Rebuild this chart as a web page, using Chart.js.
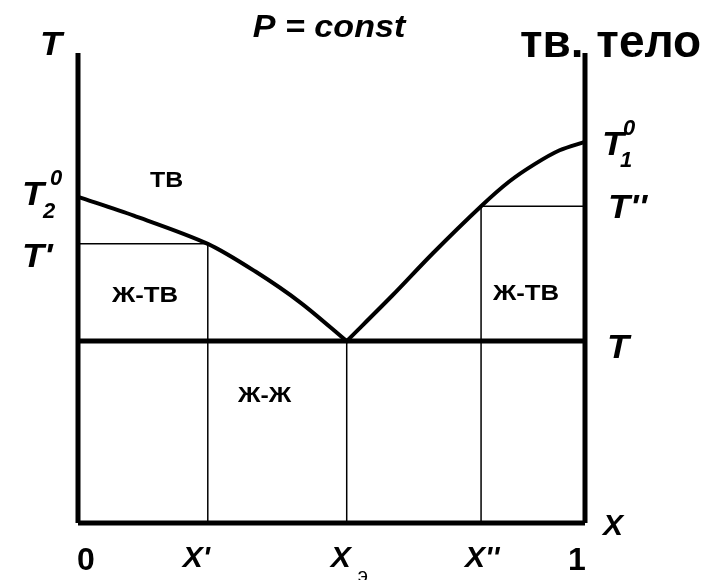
<!DOCTYPE html>
<html>
<head>
<meta charset="utf-8">
<script src="https://cdn.jsdelivr.net/npm/chart.js@4/dist/chart.umd.min.js"></script>
<style>
  body { margin: 0; background: #fff; }
  canvas { display: block; }
</style>
</head>
<body>
<canvas id="phaseChart" width="714" height="580"></canvas>
<script>
// Composition marks on the x axis: 0, x', x_э, x'', 1
const compositions = [0, 0.256, 0.53, 0.795, 1];
// Temperature levels: T2^0, T', T (eutectic), T'', T1^0
const tempLevels = [69.4, 59.4, 38.7, 67.4, 81.1];

// Liquidus curves (left and right branch)
const leftLiquidusX = [0, 0.11, 0.256, 0.35, 0.44, 0.53];
const leftLiquidusT = [69.4, 65.4, 59.4, 53.5, 46.8, 38.7];
const rightLiquidusX = [0.53, 0.62, 0.70, 0.795, 0.85, 0.90, 0.95, 1];
const rightLiquidusT = [38.7, 48.4, 57.4, 67.4, 72.6, 76.3, 79.3, 81.1];

const axisTop = 100;

const [x0, xP, xE, xPP, x1] = compositions;
const [T2, Tp, Te, Tpp, T1] = tempLevels;

function seg(xa, ya, xb, yb, width) {
    return {
        data: [{ x: xa, y: ya }, { x: xb, y: yb }],
        borderColor: '#000',
        borderWidth: width,
        pointRadius: 0,
        tension: 0,
        clip: false
    };
}

function curve(xs, ts) {
    return {
        data: xs.map((x, i) => ({ x: x, y: ts[i] })),
        borderColor: '#000',
        borderWidth: 4,
        pointRadius: 0,
        tension: 0.3,
        borderCapStyle: 'round',
        clip: false
    };
}

const datasets = [
    seg(x0, 0, x0, axisTop, 5),     // left axis
    seg(x1, 0, x1, axisTop, 5),     // right axis
    seg(x0, 0, x1, 0, 5),           // bottom
    seg(x0, Te, x1, Te, 5),         // eutectic line
    seg(x0, Tp, xP, Tp, 1.5),
    seg(xP, 0, xP, Tp, 1.5),
    seg(xE, 0, xE, Te, 1.5),
    seg(xPP, 0, xPP, Tpp, 1.5),
    seg(xPP, Tpp, x1, Tpp, 1.5),
    curve(leftLiquidusX, leftLiquidusT),
    curve(rightLiquidusX, rightLiquidusT)
];

const FONT = '"Liberation Sans", Arial, sans-serif';

const labelsPlugin = {
    id: 'phaseLabels',
    afterDraw(chart) {
        const ctx = chart.ctx;
        const xs = chart.scales.x, ys = chart.scales.y;
        const px = v => xs.getPixelForValue(v);
        const py = v => ys.getPixelForValue(v);

        // draw text, optionally stretched horizontally
        function t(s, x, y, font, stretch, align) {
            ctx.save();
            ctx.font = font;
            ctx.textAlign = align || 'left';
            ctx.textBaseline = 'alphabetic';
            ctx.fillStyle = '#000';
            ctx.translate(x, y);
            ctx.scale(stretch || 1, 1);
            ctx.fillText(s, 0, 0);
            ctx.restore();
        }
        const bi = n => 'italic bold ' + n + 'px ' + FONT;
        const b = n => 'bold ' + n + 'px ' + FONT;

        // titles
        t('T', 40, 55, bi(34), 1.06);
        t('P = const', 329, 37, bi(31), 1.1, 'center');
        t('тв. тело', 520, 57, b(46));

        // left temperature labels
        t('T', 22, py(T2) + 8, bi(34), 1.06);
        t('0', 50, py(T2) - 12, bi(22));
        t('2', 43, py(T2) + 21, bi(22));
        t("T'", 22, py(Tp) + 23, bi(34), 1.06);

        // right temperature labels
        t('T', 602, py(T1) + 13, bi(34), 1.06);
        t('0', 623, py(T1) - 7, bi(22));
        t('1', 620, py(T1) + 25, bi(22));
        t("T''", 608, py(Tpp) + 12, bi(34), 1.06);
        t('T', 607, py(Te) + 17, bi(34), 1.06);
        t('X', 603, py(0) + 12, bi(30));

        // region labels
        t('ТВ', 150, 187, b(22), 1.13);
        t('Ж-ТВ', 112, 302, b(22), 1.17);
        t('Ж-ТВ', 493, 300, b(22), 1.17);
        t('Ж-Ж', 238, 402, b(22), 1.13);

        // composition labels
        t('0', px(x0) + 8, 570, b(32), 1, 'center');
        t('1', px(x1) - 8, 570, b(32), 1, 'center');
        t("X'", px(xP) - 25, 567, bi(30));
        t('X', px(xE) - 16, 567, bi(30));
        t('э', px(xE) + 11, 582, '20px ' + FONT);
        t("X''", px(xPP) - 16, 567, bi(30));
    }
};

new Chart(document.getElementById('phaseChart').getContext('2d'), {
    type: 'line',
    data: { datasets: datasets },
    options: {
        responsive: false,
        animation: false,
        layout: { padding: { left: 78, right: 129, top: 53, bottom: 57 } },
        scales: {
            x: { type: 'linear', min: 0, max: 1, display: false },
            y: { type: 'linear', min: 0, max: axisTop, display: false }
        },
        plugins: {
            legend: { display: false },
            tooltip: { enabled: false }
        }
    },
    plugins: [labelsPlugin]
});
</script>
</body>
</html>
